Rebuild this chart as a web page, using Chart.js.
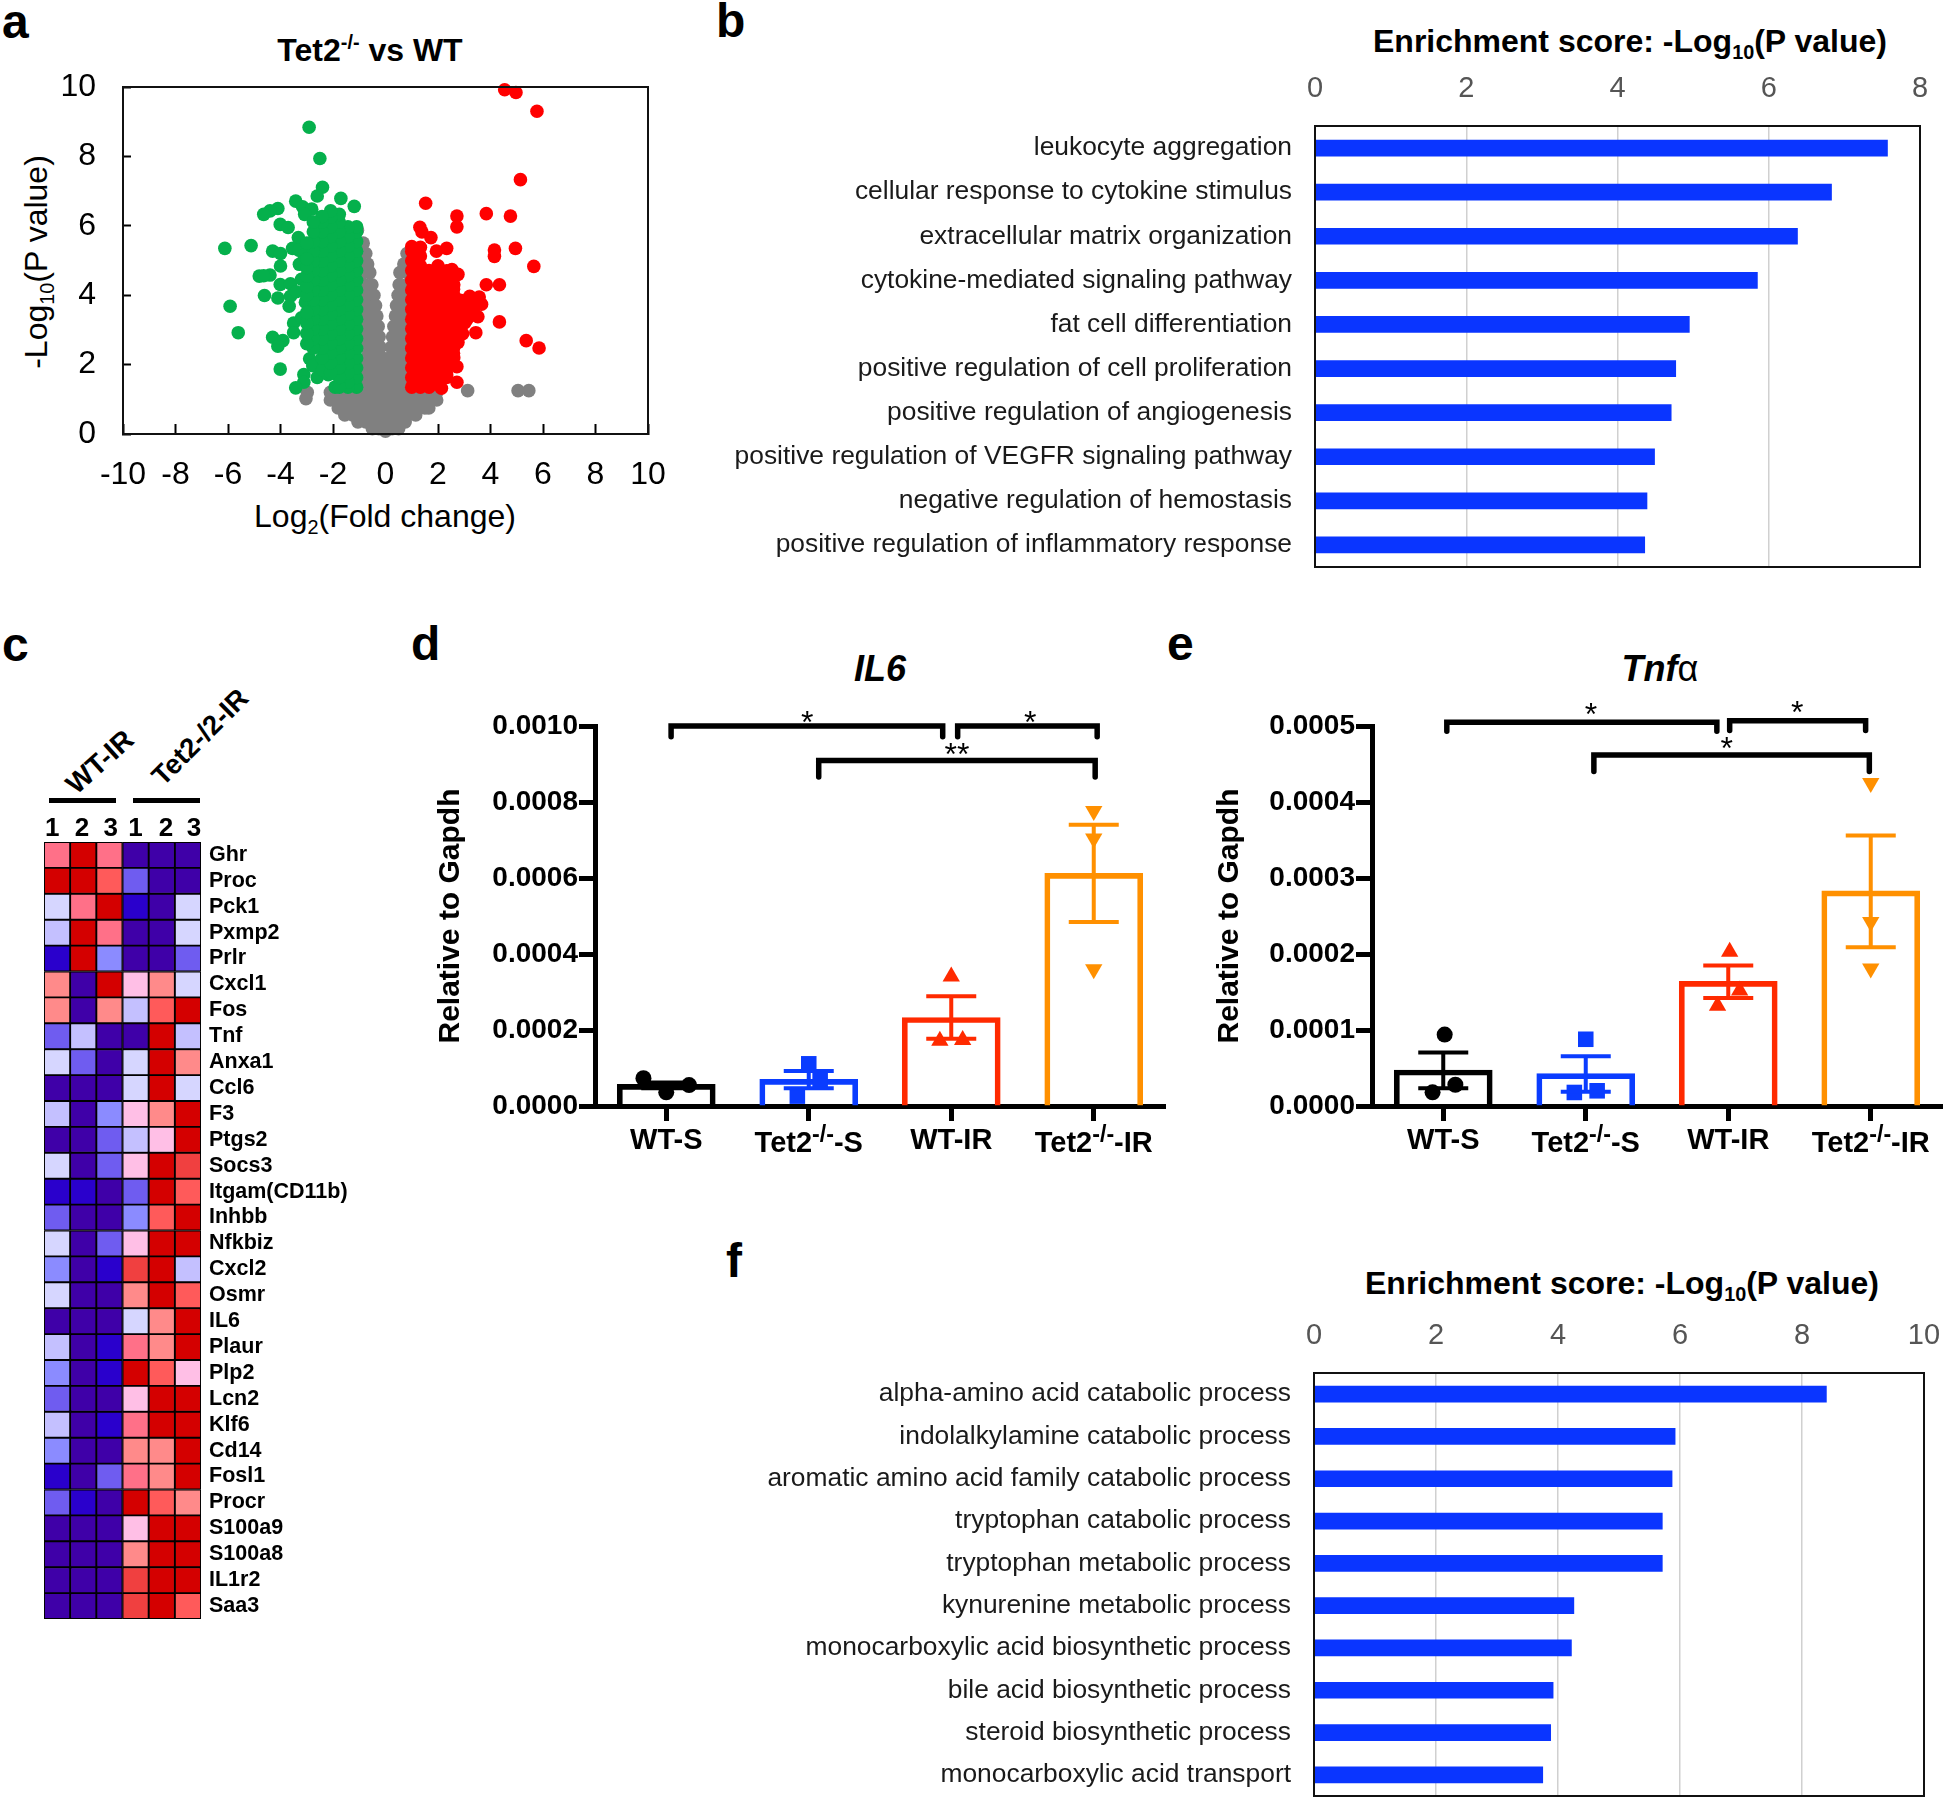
<!DOCTYPE html>
<html>
<head>
<meta charset="utf-8">
<script src="https://cdn.jsdelivr.net/npm/chart.js@4"></script>
<style>
  body { margin: 0; background: #fff; }
  #page { position: relative; width: 1946px; height: 1800px; overflow: hidden; font-family: "Liberation Sans", Arial, sans-serif; color: #000; }
  canvas { position: absolute; }
  .txt { position: absolute; white-space: nowrap; transform: translate(-50%, -50%); line-height: 1; }
  .letter { position: absolute; font-weight: bold; font-size: 48px; line-height: 1; }
  .bar { position: absolute; background: #000; }
  sup, sub { font-size: 62%; line-height: 0; }
</style>
</head>
<body>
<div id="page">
  <div class="letter" style="left:2px;top:-2px">a</div>
  <div class="letter" style="left:716px;top:-3px">b</div>
  <div class="letter" style="left:2px;top:621px">c</div>
  <div class="letter" style="left:411px;top:620px">d</div>
  <div class="letter" style="left:1167px;top:620px">e</div>
  <div class="letter" style="left:726px;top:1237px">f</div>

  <div class="txt" style="left:370px;top:50px;font-size:32px;font-weight:bold">Tet2<sup>-/-</sup> vs WT</div>
  <div class="txt" style="left:385px;top:516px;font-size:32px">Log<sub>2</sub>(Fold change)</div>
  <div class="txt" style="left:36px;top:262px;font-size:32px;transform:translate(-50%,-50%) rotate(-90deg)">-Log<sub>10</sub>(P value)</div>

  <div class="txt" style="left:1630px;top:41px;font-size:32px;font-weight:bold">Enrichment score: -Log<sub>10</sub>(P value)</div>
  <div class="txt" style="left:1622px;top:1283px;font-size:32px;font-weight:bold">Enrichment score: -Log<sub>10</sub>(P value)</div>

  <div class="txt" style="left:100px;top:762px;font-size:28px;font-weight:bold;transform:translate(-50%,-50%) rotate(-42deg)">WT-IR</div>
  <div class="txt" style="left:200px;top:737px;font-size:27.5px;font-weight:bold;transform:translate(-50%,-50%) rotate(-45deg)">Tet2-/2-IR</div>
  <div class="bar" style="left:49px;top:798px;width:67px;height:5px"></div>
  <div class="bar" style="left:133px;top:798px;width:67px;height:5px"></div>

  <div class="txt" style="left:880px;top:669px;font-size:36px;font-weight:bold;font-style:italic">IL6</div>
  <div class="txt" style="left:1660px;top:669px;font-size:36px;font-weight:bold;font-style:italic">Tnf<span style="font-style:normal;font-weight:normal">α</span></div>

  <canvas id="volcano"></canvas>
  <canvas id="goUp"></canvas>
  <canvas id="heat"></canvas>
  <canvas id="il6"></canvas>
  <canvas id="tnf"></canvas>
  <canvas id="goDown"></canvas>
</div>

<script>
// ---- panel a: volcano
const volcanoGreenOutliers = [[-2.91,8.84],[-2.5,7.94],[-2.4,7.11],[-2.6,6.86],[-1.7,6.79],[-1.19,6.56],[-3.42,6.71],[-3.16,6.55],[-2.81,6.48],[-3.08,6.33],[-4.1,6.5],[-4.4,6.43],[-4.64,6.33],[-4.01,6.04],[-3.71,5.95],[-6.12,5.35],[-5.12,5.43],[-4.3,5.27],[-4.0,5.2],[-3.32,5.66],[-3.54,5.35],[-3.28,4.89],[-4.0,4.84],[-4.4,4.58],[-4.81,4.55],[-4.64,4.56],[-4.01,4.31],[-3.62,4.33],[-3.2,4.46],[-4.61,3.99],[-4.1,3.92],[-3.62,3.97],[-3.67,3.68],[-5.92,3.68],[-5.61,2.92],[-3.5,3.2],[-3.5,2.92],[-3.2,3.35],[-4.3,2.79],[-3.91,2.69],[-4.1,2.53],[-4.01,1.87],[-2.89,2.17],[-3.11,1.71],[-3.11,1.49],[-3.42,1.33],[-2.6,1.63],[-2.77,1.97],[-3.3,5.3],[-3.1,5.15],[-3.4,4.1],[-3.05,3.8],[-2.18,1.71],[-1.92,1.35],[-2.4,1.85]];
const volcanoGreenColumns = [
  [-1.1,  [1.35,1.63,1.91,2.19,2.47,2.75,3.03,3.31,3.59,3.87,4.15,4.43,4.71,4.99,5.27,5.55,5.83,5.97]],
  [-1.43, [1.35,1.49,1.77,2.05,2.33,2.61,2.89,3.17,3.45,3.73,4.01,4.29,4.57,4.85,5.13,5.41,5.69,5.97]],
  [-1.76, [1.35,1.63,1.91,2.19,2.47,2.75,3.03,3.31,3.59,3.87,4.15,4.43,4.71,4.99,5.27,5.55,5.83,6.11,6.33]],
  [-2.09, [1.77,2.05,2.33,2.61,2.89,3.17,3.45,3.73,4.01,4.29,4.57,4.85,5.13,5.41,5.69,5.97,6.25,6.43]],
  [-2.42, [2.19,2.47,2.75,3.03,3.31,3.59,3.87,4.15,4.43,4.71,4.99,5.27,5.55,5.83,6.11,6.27]],
  [-2.75, [2.47,2.75,3.03,3.31,3.59,3.87,4.15,4.43,4.71,4.99,5.27,5.55,5.83,6.11]],
  [-3.0,  [2.6,2.9,3.2,3.5,4.0,4.25,4.55,4.8,5.05,5.5]]
];
const volcanoRedOutliers = [[4.54,9.92],[4.97,9.84],[5.77,9.3],[5.14,7.33],[1.53,6.65],[2.72,6.28],[2.72,5.97],[3.84,6.35],[4.76,6.28],[1.31,5.96],[1.39,5.82],[1.73,5.66],[2.33,5.35],[1.94,5.27],[4.15,5.3],[4.15,5.12],[4.95,5.35],[5.65,4.83],[2.76,4.6],[2.53,4.74],[3.84,4.3],[4.34,4.3],[4.34,3.23],[5.36,2.69],[5.85,2.48],[3.57,3.95],[3.21,3.97],[3.66,3.74],[3.01,3.71],[3.52,3.38],[3.44,2.92],[3.01,3.2],[2.94,2.89],[2.72,1.94],[2.72,1.49],[2.13,1.32],[2.76,2.64],[2.59,2.33],[2.5,2.02],[2.33,1.71],[2.59,4.17],[2.66,3.65],[2.84,3.25],[3.18,3.56]];
const volcanoRedColumns = [
  [1.0,  [1.35,1.63,1.91,2.19,2.47,2.75,3.03,3.31,3.59,3.87,4.15,4.43,4.71,4.99,5.27,5.4]],
  [1.33, [1.35,1.49,1.77,2.05,2.33,2.61,2.89,3.17,3.45,3.73,4.01,4.29,4.57,4.85,5.13,5.38]],
  [1.66, [1.35,1.63,1.91,2.19,2.47,2.75,3.03,3.31,3.59,3.87,4.15,4.43,4.71]],
  [2.0,  [1.49,1.77,2.05,2.33,2.61,2.89,3.17,3.45,3.73,4.01,4.29,4.57,4.85]],
  [2.33, [1.63,1.91,2.19,2.47,2.75,3.03,3.31,3.59,3.87,4.15,4.43,4.7]],
  [2.6,  [2.2,2.5,2.8,3.1,3.4,3.7,4.0,4.3,4.5]],
  [2.85, [2.9,3.3,3.6,3.85]],
  [3.1,  [3.3,3.65,3.85]],
  [3.35, [3.6,3.8]]
];
const volcanoGreyOutliers = [[-2.98,1.2],[-3.03,1.02],[3.13,1.25],[5.05,1.25],[5.46,1.25],[-1.07,5.87]];
const volcanoGreyRows = [
  [5.5, [-0.85]], [5.2, [-0.75,-0.95,0.82]], [4.9, [-0.68,-0.9,0.7,0.9]], [4.65, [-0.6,-0.85,0.55,0.85]],
  [4.3, [-0.52,-0.8,0.52,0.8]], [4.0, [-0.44,-0.75,0.48,0.76]], [3.7, [-0.38,-0.7,-0.95,0.42,0.7]],
  [3.4, [-0.33,-0.6,-0.9,0.38,0.66,0.9]], [3.1, [-0.28,-0.55,-0.85,0.32,0.6,0.88]],
  [2.8, [-0.24,-0.5,-0.8,0.27,0.55,0.83]], [2.5, [-0.2,-0.48,-0.75,0.22,0.5,0.78]],
  [2.2, [-0.14,-0.42,-0.7,0.18,0.45,0.72]], [1.9, [-0.1,-0.38,-0.66,-0.9,0.14,0.4,0.68,0.92]],
  [1.65, [-0.05,-0.3,-0.6,-0.9,0.1,0.35,0.65,0.9]], [1.4, [-0.9,-0.6,-0.3,0,0.3,0.6,0.9]],
  [1.2, [-2.1,-1.8,-1.5,-1.2,-0.9,-0.6,-0.3,0,0.3,0.6,0.9,1.2,1.5,1.8,1.95]],
  [0.98, [-2.1,-1.95,-1.65,-1.35,-1.05,-0.75,-0.45,-0.15,0.15,0.45,0.75,1.05,1.35,1.65,1.95]],
  [0.75, [-1.8,-1.5,-1.2,-0.9,-0.6,-0.3,0,0.3,0.6,0.9,1.2,1.5,1.65]],
  [0.55, [-1.55,-1.25,-0.95,-0.65,-0.35,-0.05,0.25,0.55,0.85,1.15]],
  [0.35, [-1.05,-0.75,-0.45,-0.15,0.15,0.45,0.75]],
  [0.15, [-0.5,-0.25,0,0.25,0.5]], [0.08, [0]]
];

// ---- panel b
const goUpTerms = ['leukocyte aggregation','cellular response to cytokine stimulus','extracellular matrix organization','cytokine-mediated signaling pathway','fat cell differentiation','positive regulation of cell proliferation','positive regulation of angiogenesis','positive regulation of VEGFR signaling pathway','negative regulation of hemostasis','positive regulation of inflammatory response'];
const goUpScores = [7.57,6.83,6.38,5.85,4.95,4.77,4.71,4.49,4.39,4.36];

// ---- panel f
const goDownTerms = ['alpha-amino acid catabolic process','indolalkylamine catabolic process','aromatic amino acid family catabolic process','tryptophan catabolic process','tryptophan metabolic process','kynurenine metabolic process','monocarboxylic acid biosynthetic process','bile acid biosynthetic process','steroid biosynthetic process','monocarboxylic acid transport'];
const goDownScores = [8.40,5.92,5.87,5.71,5.71,4.26,4.22,3.92,3.88,3.75];

// ---- panel c: colour level per cell, 0 = deepest blue, 11 = deepest red
const heatGenes = ['Ghr','Proc','Pck1','Pxmp2','Prlr','Cxcl1','Fos','Tnf','Anxa1','Ccl6','F3','Ptgs2','Socs3','Itgam(CD11b)','Inhbb','Nfkbiz','Cxcl2','Osmr','IL6','Plaur','Plp2','Lcn2','Klf6','Cd14','Fosl1','Procr','S100a9','S100a8','IL1r2','Saa3'];
const heatHeaders = ['1','2','3','1','2','3'];
const heatHeaderSpots = [0.31,1.45,2.55,3.5,4.66,5.73];
const heatPalette = ['#3f00a8','#2a00cc','#6f5cf0','#8b8bff','#c4c0ff','#d6d6ff','#ffbfe6','#ff8a8a','#ff7088','#ff5a5a','#f04040','#d40000'];
const heatLevels = [
  [8,11,8,0,0,0],[11,11,9,2,0,0],[5,8,11,1,0,5],[4,11,8,0,0,5],[1,11,3,0,0,2],
  [7,0,11,6,7,5],[7,0,7,4,9,11],[2,4,0,0,11,4],[5,2,0,5,11,7],[0,0,0,5,11,5],
  [4,0,3,6,7,11],[0,0,2,4,6,11],[5,0,2,6,11,10],[1,1,0,2,11,9],[2,0,0,3,9,11],
  [5,0,2,6,11,11],[3,0,1,10,11,4],[5,0,0,7,11,9],[0,0,0,5,7,11],[4,0,1,8,7,11],
  [3,0,1,11,9,6],[2,0,0,6,11,11],[4,0,1,8,11,11],[3,0,0,7,7,11],[1,0,2,8,7,11],
  [2,1,0,11,9,7],[0,0,0,6,11,11],[0,0,0,7,11,11],[0,0,0,10,11,11],[0,0,0,10,11,9]
];

// ---- panels d and e
const qpcrGroups = ['WT-S','Tet2^-/-^-S','WT-IR','Tet2^-/-^-IR'];
const qpcrColours = ['#000000','#0a3cff','#ff2a00','#ff9000'];
const qpcrMarkers = ['circle','rect','triangle','triangle'];

const il6Ticks = [0,0.0002,0.0004,0.0006,0.0008,0.001];
const il6Means = [0.000057,0.00007,0.000233,0.000612];
const il6Upper = [0.000062,0.000092,0.000289,0.00074];
const il6Lower = [0.000047,0.000047,0.000177,0.000484];
const il6Replicates = [
  [[-0.16,0.000073],[0,0.000036],[0.16,0.000055]],
  [[0,0.000111],[0.08,0.000069],[-0.08,0.000026]],
  [[0,0.000341],[-0.08,0.000172],[0.08,0.000174]],
  [[0,0.000776],[0,0.000704],[0,0.00036]]
];
const il6Brackets = [[0.034,1.94,0.001,0.000972],[2.045,3.024,0.001,0.000972],[1.07,3.01,0.000909,0.000866]];
const il6Stars = [[0.99,0.001026,'*'],[2.555,0.001026,'*'],[2.04,0.000942,'**']];

const tnfTicks = [0,0.0001,0.0002,0.0003,0.0004,0.0005];
const tnfMeans = [0.0000474,0.0000427,0.000164,0.000283];
const tnfUpper = [0.0000704,0.0000653,0.000185,0.000356];
const tnfLower = [0.0000235,0.0000188,0.000142,0.000209];
const tnfReplicates = [
  [[0.01,0.000094],[0.085,0.000028],[-0.075,0.000018]],
  [[0,0.0000878],[-0.08,0.0000178],[0.08,0.00002]],
  [[0.01,0.000203],[0.08,0.000152],[-0.075,0.000132]],
  [[0,0.000425],[0,0.000242],[0,0.000181]]
];
const tnfBrackets = [[0.025,1.92,0.000505,0.000493],[2.01,2.964,0.000507,0.000494],[1.057,2.99,0.000462,0.00044]];
const tnfStars = [[1.036,0.000523,'*'],[2.484,0.000526,'*'],[1.99,0.000479,'*']];

Chart.defaults.font.family = '"Liberation Sans", Arial, sans-serif';
Chart.defaults.color = '#000';
Chart.defaults.animation = false;
Chart.defaults.plugins.legend.display = false;
Chart.defaults.plugins.tooltip.enabled = false;

// Put a canvas so that its plot area lands on the given rectangle
function placeCanvas(id, plot, margin) {
  const cv = document.getElementById(id);
  cv.style.left = (plot.left - margin.l) + 'px';
  cv.style.top = (plot.top - margin.t) + 'px';
  cv.width = plot.right - plot.left + margin.l + margin.r;
  cv.height = plot.bottom - plot.top + margin.t + margin.b;
  return cv;
}

// Black rectangle round the plot area
const framePlugin = {
  id: 'frame',
  afterDraw(chart) {
    const a = chart.chartArea, ctx = chart.ctx;
    ctx.save();
    ctx.strokeStyle = '#111';
    ctx.lineWidth = 2;
    ctx.strokeRect(a.left, a.top, a.right - a.left, a.bottom - a.top);
    ctx.restore();
  }
};

function flattenColumns(cols) {
  return cols.flatMap(c => c[1].map(y => ({ x: c[0], y: y })));
}
function flattenRows(rows) {
  return rows.flatMap(r => r[1].map(x => ({ x: x, y: r[0] })));
}
function toPoints(list) {
  return list.map(p => ({ x: p[0], y: p[1] }));
}

// Panel a
function drawVolcano() {
  const plot = { left: 123, right: 648, top: 87, bottom: 434 };
  const m = { l: 110, t: 60, r: 70, b: 70 };
  const dot = c => ({ backgroundColor: c, borderWidth: 0, pointRadius: 6.8, clip: false });
  new Chart(placeCanvas('volcano', plot, m), {
    type: 'scatter',
    data: { datasets: [
      { data: toPoints(volcanoGreenOutliers).concat(flattenColumns(volcanoGreenColumns)), ...dot('#05b04c') },
      { data: toPoints(volcanoRedOutliers).concat(flattenColumns(volcanoRedColumns)), ...dot('#ff0000') },
      { data: toPoints(volcanoGreyOutliers).concat(flattenRows(volcanoGreyRows)), ...dot('#808080') }
    ] },
    options: {
      responsive: false,
      layout: { padding: { top: m.t, right: m.r } },
      scales: {
        x: {
          type: 'linear', min: -10, max: 10,
          afterFit: s => { s.height = m.b; },
          ticks: { stepSize: 2, font: { size: 32 }, padding: 32, maxRotation: 0 },
          grid: { drawOnChartArea: false, tickLength: -10, tickWidth: 2, tickColor: '#000' },
          border: { color: '#000', width: 2 }
        },
        y: {
          type: 'linear', min: 0, max: 10,
          afterFit: s => { s.width = m.l; },
          ticks: { stepSize: 2, font: { size: 32 }, padding: 35 },
          grid: { drawOnChartArea: false, tickLength: -8, tickWidth: 2, tickColor: '#000' },
          border: { color: '#000', width: 2 }
        }
      }
    },
    plugins: [framePlugin]
  });
}

// Panels b and f
function drawEnrichment(id, plot, terms, scores, maxX) {
  const m = { l: 625, t: 60, r: 60, b: 50 };
  new Chart(placeCanvas(id, plot, m), {
    type: 'bar',
    data: { labels: terms, datasets: [{ data: scores, backgroundColor: '#0a35ff', barThickness: 16 }] },
    options: {
      indexAxis: 'y',
      responsive: false,
      layout: { padding: { right: m.r, bottom: m.b } },
      scales: {
        x: {
          position: 'top', min: 0, max: maxX,
          afterFit: s => { s.height = m.t; },
          ticks: { stepSize: 2, color: '#555', font: { size: 29 }, padding: 20, maxRotation: 0 },
          grid: { color: '#d0d0d0', lineWidth: 1.5, drawTicks: false },
          border: { display: false }
        },
        y: {
          afterFit: s => { s.width = m.l; },
          ticks: { color: '#1a1a1a', font: { size: 26.4 }, padding: 23, autoSkip: false },
          grid: { display: false, drawTicks: false },
          border: { display: false }
        }
      }
    },
    plugins: [framePlugin]
  });
}

// Panel c
function drawHeat() {
  const plot = { left: 44, right: 201, top: 842, bottom: 1619 };
  const m = { l: 6, t: 40, r: 170, b: 30 };
  const datasets = heatHeaders.map((h, c) => ({
    data: heatLevels.map(() => [c, c + 1]),
    backgroundColor: heatLevels.map(row => heatPalette[row[c]]),
    borderColor: '#000',
    borderWidth: 1.3,
    borderSkipped: false,
    barPercentage: 1,
    categoryPercentage: 1,
    grouped: false
  }));
  new Chart(placeCanvas('heat', plot, m), {
    type: 'bar',
    data: { labels: heatGenes, datasets: datasets },
    options: {
      indexAxis: 'y',
      responsive: false,
      layout: { padding: { left: m.l, bottom: m.b } },
      scales: {
        x: {
          type: 'linear', position: 'top', min: 0, max: 6,
          afterFit: s => { s.height = m.t; },
          afterBuildTicks: s => { s.ticks = heatHeaderSpots.map(v => ({ value: v })); },
          ticks: { callback: (v, i) => heatHeaders[i], font: { size: 26, weight: 'bold' }, padding: -2, maxRotation: 0 },
          grid: { display: false, drawTicks: false },
          border: { display: false }
        },
        y: {
          position: 'right',
          afterFit: s => { s.width = m.r; },
          ticks: { font: { size: 21.5, weight: 'bold' }, padding: 8, autoSkip: false },
          grid: { display: false, drawTicks: false },
          border: { display: false }
        }
      }
    }
  });
}

// Text with ^superscript^ parts, centred on x
function drawRichLabel(ctx, label, x, y, size) {
  const parts = label.split('^');
  const fontFor = i => 'bold ' + (i % 2 ? size * 0.8 : size) + 'px "Liberation Sans", Arial, sans-serif';
  const base = parts.length > 1 ? y + 3 : y;
  let width = 0;
  parts.forEach((p, i) => { ctx.font = fontFor(i); width += ctx.measureText(p).width; });
  let cx = x - width / 2;
  ctx.textAlign = 'left';
  ctx.textBaseline = 'alphabetic';
  parts.forEach((p, i) => {
    ctx.font = fontFor(i);
    ctx.fillText(p, cx, i % 2 ? base - size * 0.36 : base);
    cx += ctx.measureText(p).width;
  });
}

// Panels d and e
function drawQpcr(id, plot, l, titlePad, ticks, means, upper, lower, replicates, brackets, stars) {
  const m = { l: l, t: 60, r: 16, b: 60 };
  const overlay = {
    id: 'overlay',
    afterDatasetsDraw(chart) {
      const ctx = chart.ctx, xs = chart.scales.x, ys = chart.scales.y;
      ctx.save();
      // error bars
      ctx.lineWidth = 4;
      means.forEach((v, i) => {
        const x = xs.getPixelForValue(i), hi = ys.getPixelForValue(upper[i]), lo = ys.getPixelForValue(lower[i]);
        ctx.strokeStyle = qpcrColours[i];
        ctx.beginPath();
        ctx.moveTo(x, hi); ctx.lineTo(x, lo);
        ctx.moveTo(x - 25, hi); ctx.lineTo(x + 25, hi);
        ctx.moveTo(x - 25, lo); ctx.lineTo(x + 25, lo);
        ctx.stroke();
      });
      // significance brackets
      ctx.strokeStyle = '#000';
      ctx.lineWidth = 5.5;
      ctx.lineCap = 'round';
      brackets.forEach(b => {
        const x1 = xs.getPixelForValue(b[0]), x2 = xs.getPixelForValue(b[1]);
        const top = ys.getPixelForValue(b[2]), end = ys.getPixelForValue(b[3]);
        ctx.beginPath();
        ctx.moveTo(x1, end); ctx.lineTo(x1, top); ctx.lineTo(x2, top); ctx.lineTo(x2, end);
        ctx.stroke();
      });
      ctx.fillStyle = '#000';
      ctx.font = '32px "Liberation Sans", Arial, sans-serif';
      ctx.textAlign = 'center';
      ctx.textBaseline = 'middle';
      stars.forEach(s => ctx.fillText(s[2], xs.getPixelForValue(s[0]), ys.getPixelForValue(s[1]) + 8));
      // category labels with superscript
      qpcrGroups.forEach((g, i) => drawRichLabel(ctx, g, xs.getPixelForValue(i), chart.chartArea.bottom + 43, 29));
      ctx.restore();
    }
  };
  const datasets = [{
    type: 'bar',
    data: means.map((v, i) => ({ x: i, y: v })),
    backgroundColor: 'rgba(0,0,0,0)',
    borderColor: qpcrColours,
    borderWidth: 5,
    barThickness: 98,
    order: 2
  }].concat(replicates.map((reps, i) => ({
    type: 'scatter',
    data: reps.map(p => ({ x: i + p[0], y: p[1] })),
    backgroundColor: qpcrColours[i],
    borderWidth: 0,
    pointStyle: qpcrMarkers[i],
    pointRotation: i === 3 ? 180 : 0,
    pointRadius: i === 1 ? 11 : (i === 0 ? 8 : 10),
    order: 1,
    clip: false
  })));
  new Chart(placeCanvas(id, plot, m), {
    data: { datasets: datasets },
    options: {
      responsive: false,
      layout: { padding: { top: m.t, right: m.r } },
      scales: {
        x: {
          type: 'linear', min: -0.5, max: 3.5, offset: false,
          afterFit: s => { s.height = m.b; },
          afterBuildTicks: s => { s.ticks = means.map((v, i) => ({ value: i })); },
          ticks: { display: false },
          grid: { offset: false, drawOnChartArea: false, tickLength: 15, tickWidth: 5, tickColor: '#000' },
          border: { color: '#000', width: 5 }
        },
        y: {
          type: 'linear', min: 0, max: ticks[ticks.length - 1],
          afterFit: s => { s.width = m.l; },
          afterBuildTicks: s => { s.ticks = ticks.map(v => ({ value: v })); },
          ticks: { callback: v => v.toFixed(4), font: { size: 28, weight: 'bold' }, padding: 1 },
          title: { display: true, text: 'Relative to Gapdh', font: { size: 30, weight: 'bold' }, padding: { top: titlePad, bottom: 0 } },
          grid: { drawOnChartArea: false, tickLength: 16, tickWidth: 5, tickColor: '#000' },
          border: { color: '#000', width: 5 }
        }
      }
    },
    plugins: [overlay]
  });
}

drawVolcano();
drawEnrichment('goUp', { left: 1315, right: 1920, top: 126, bottom: 567 }, goUpTerms, goUpScores, 8);
drawHeat();
drawQpcr('il6', { left: 595, right: 1165, top: 726, bottom: 1106 }, 175, 13, il6Ticks, il6Means, il6Upper, il6Lower, il6Replicates, il6Brackets, il6Stars);
drawQpcr('tnf', { left: 1372, right: 1942, top: 726, bottom: 1106 }, 175, 15, tnfTicks, tnfMeans, tnfUpper, tnfLower, tnfReplicates, tnfBrackets, tnfStars);
drawEnrichment('goDown', { left: 1314, right: 1924, top: 1373, bottom: 1796 }, goDownTerms, goDownScores, 10);
</script>
</body>
</html>
